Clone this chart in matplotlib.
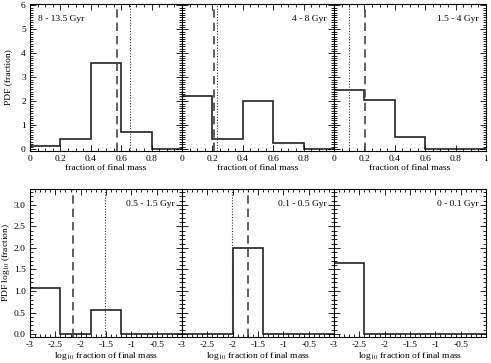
import numpy as np
import matplotlib
matplotlib.use("Agg")
import matplotlib.pyplot as plt
from matplotlib.ticker import MultipleLocator, FixedLocator, FixedFormatter

plt.rcParams['font.family'] = ['Liberation Serif', 'DejaVu Serif']
plt.rcParams['mathtext.fontset'] = 'stix'
plt.rcParams['axes.unicode_minus'] = False

# ---- data ----
top_labels = ["8 - 13.5 Gyr", "4 - 8 Gyr", "1.5 - 4 Gyr"]
top_edges = [0.0, 0.2, 0.4, 0.6, 0.8, 1.0]
top_vals_1 = [0.13, 0.41, 3.6, 0.71, 0.0]
top_vals_2 = [2.2, 0.42, 2.0, 0.24, 0.0]
top_vals_3 = [2.45, 2.03, 0.49, 0.0, 0.0]
top_dashed = [0.575, 0.21, 0.205]
top_dotted = [0.655, 0.23, 0.10]

bot_labels = ["0.5 - 1.5 Gyr", "0.1 - 0.5 Gyr", "0 - 0.1 Gyr"]
bot_edges_1 = [-3.0, -2.4, -1.8, -1.2, -0.6, 0.0]
bot_vals_1 = [1.07, 0.0, 0.56, 0.0, 0.0]
bot_edges_2 = [-3.0, -2.0, -1.4, 0.0]
bot_vals_2 = [0.0, 2.0, 0.0]
bot_edges_3 = [-3.0, -2.4, 0.0]
bot_vals_3 = [1.65, 0.0]
bot_dashed = [-2.15, -1.69, None]
bot_dotted = [-1.51, -2.02, None]

top_xticks = [0, 0.2, 0.4, 0.6, 0.8, 1.0]
top_xticklabels = ["0", "0.2", "0.4", "0.6", "0.8", "1"]
bot_xticks = [-3, -2.5, -2, -1.5, -1, -0.5]
bot_xticklabels = ["-3", "-2.5", "-2", "-1.5", "-1", "-0.5"]
top_yticks = [0, 1, 2, 3, 4, 5, 6]
bot_yticks = [0.0, 0.5, 1.0, 1.5, 2.0, 2.5, 3.0]

fs = 6.8
W, H = 491, 363
fig = plt.figure(figsize=(W / 100, H / 100), dpi=100)

left_px = 30
panel_w = 152
top_row = (4, 150.7)
bot_row = (189.3, 336.7)

def make_ax(i, row):
    x0 = (left_px + i * panel_w) / W
    y0 = 1 - row[1] / H
    h = (row[1] - row[0]) / H
    return fig.add_axes([x0, y0, panel_w / W, h])

def style(ax):
    ax.tick_params(which='both', direction='in', top=True, right=True,
                   labelsize=fs, width=0.6, pad=3, colors='black')
    ax.tick_params(which='major', length=4)
    ax.tick_params(which='minor', length=2)
    for s in ax.spines.values():
        s.set_linewidth(0.8)

hist_color = '#222222'
dash_color = '#444444'
ylabel_x = (12 - left_px) / panel_w

top_vals = [top_vals_1, top_vals_2, top_vals_3]
for i in range(3):
    ax = make_ax(i, top_row)
    ax.stairs(top_vals[i], top_edges, baseline=None, color=hist_color, lw=1.2)
    ax.axvline(top_dashed[i], color=dash_color, lw=1.2, dashes=(5, 3))
    ax.axvline(top_dotted[i], color='#333333', lw=0.8, dashes=(1, 1.5))
    ax.set_xlim(0, 1)
    ax.set_ylim(-0.07, 6.06)
    style(ax)
    if i < 2:
        ax.xaxis.set_major_locator(FixedLocator(top_xticks[:-1]))
        ax.xaxis.set_major_formatter(FixedFormatter(top_xticklabels[:-1]))
    else:
        ax.xaxis.set_major_locator(FixedLocator(top_xticks))
        ax.xaxis.set_major_formatter(FixedFormatter(top_xticklabels))
    ax.xaxis.set_minor_locator(MultipleLocator(0.05))
    ax.yaxis.set_major_locator(FixedLocator(top_yticks))
    ax.yaxis.set_minor_locator(MultipleLocator(0.1))
    if i == 0:
        ax.set_yticklabels([str(v) for v in top_yticks])
        ax.set_ylabel("PDF (fraction)", fontsize=fs)
        ax.yaxis.set_label_coords(ylabel_x, 0.5)
        ax.text(0.05, 0.9, top_labels[i], transform=ax.transAxes,
                fontsize=fs, ha='left', va='center')
    else:
        ax.set_yticklabels([])
        ax.text(0.95, 0.9, top_labels[i], transform=ax.transAxes,
                fontsize=fs, ha='right', va='center')
    ax.set_xlabel("fraction of final mass", fontsize=fs, labelpad=0.5)

bot_edges = [bot_edges_1, bot_edges_2, bot_edges_3]
bot_vals = [bot_vals_1, bot_vals_2, bot_vals_3]
for i in range(3):
    ax = make_ax(i, bot_row)
    ax.stairs(bot_vals[i], bot_edges[i], baseline=None, color=hist_color, lw=1.2)
    if bot_dashed[i] is not None:
        ax.axvline(bot_dashed[i], color=dash_color, lw=1.2, dashes=(5, 3))
    if bot_dotted[i] is not None:
        ax.axvline(bot_dotted[i], color='#333333', lw=0.8, dashes=(1, 1.5))
    ax.set_xlim(-3, 0)
    ax.set_ylim(-0.06, 3.36)
    style(ax)
    ax.xaxis.set_major_locator(FixedLocator(bot_xticks))
    ax.xaxis.set_major_formatter(FixedFormatter(bot_xticklabels))
    ax.xaxis.set_minor_locator(MultipleLocator(0.1))
    ax.yaxis.set_major_locator(FixedLocator(bot_yticks))
    ax.yaxis.set_minor_locator(MultipleLocator(0.1))
    if i == 0:
        ax.set_yticklabels(["%.1f" % v for v in bot_yticks])
        ax.set_ylabel(r"PDF log$_{10}$ (fraction)", fontsize=fs)
        ax.yaxis.set_label_coords(ylabel_x, 0.5)
    else:
        ax.set_yticklabels([])
    ax.text(0.95, 0.9, bot_labels[i], transform=ax.transAxes,
            fontsize=fs, ha='right', va='center')
    ax.set_xlabel(r"log$_{10}$ fraction of final mass", fontsize=fs, labelpad=0.5)

fig.savefig("out.png", dpi=100)
